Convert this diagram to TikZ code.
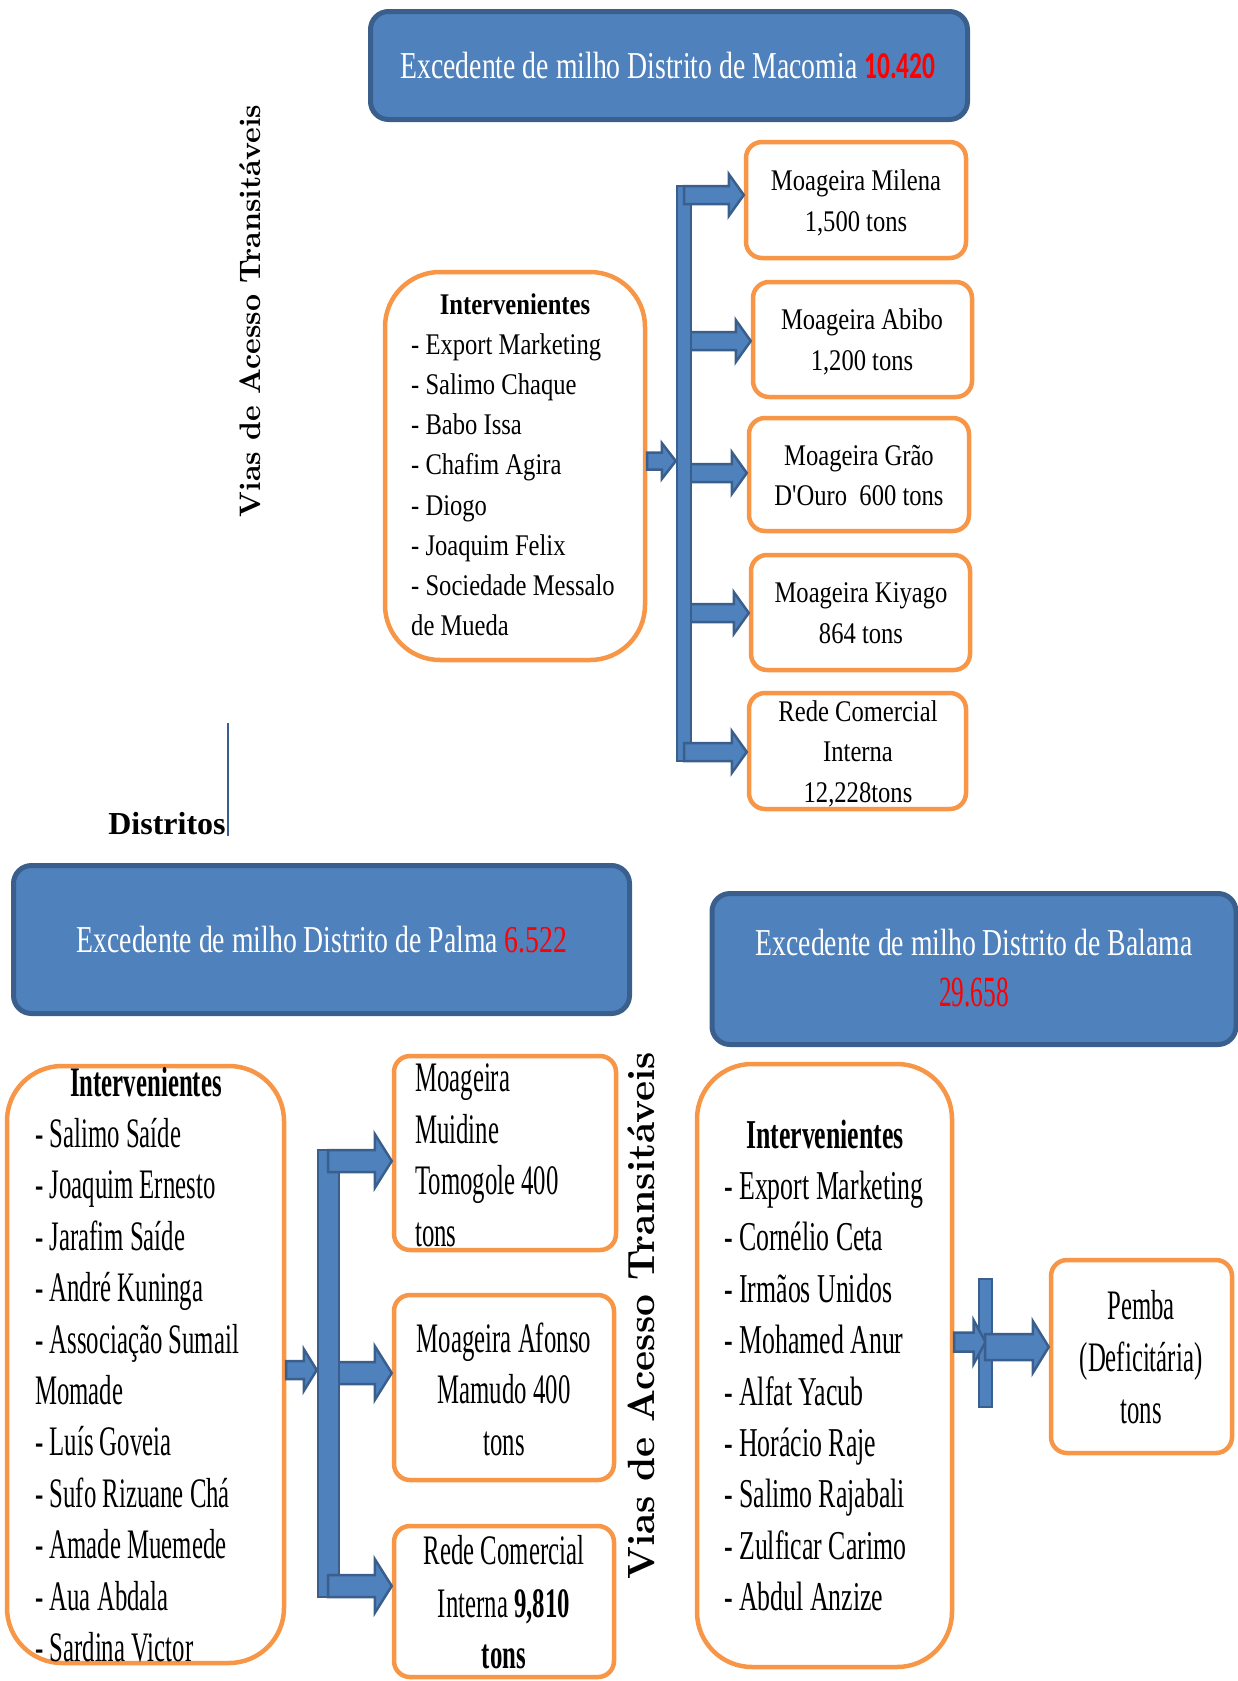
\documentclass[tikz,border=0pt]{standalone}
\usepackage{fontspec}
\usetikzlibrary{calc,fit}
\newfontfamily\fHead[FakeStretch=0.73]{Liberation Serif}
\newfontfamily\fNum[FakeStretch=0.67]{Carlito Bold}
\newfontfamily\fA[FakeStretch=0.82]{Liberation Serif}
\newfontfamily\fB[FakeStretch=0.59]{Liberation Serif}
\newfontfamily\fC[FakeStretch=0.63]{Liberation Serif}
\newfontfamily\fVias{lmroman10-bold.otf}
\newfontfamily\fDist{Liberation Serif}
\definecolor{bblue}{HTML}{4F81BD}
\definecolor{bedge}{HTML}{3A5F8C}
\definecolor{orng}{HTML}{F79646}
\tikzset{
  hdrbox/.style={draw=bedge, line width=5pt, fill=bblue, rounded corners=18pt, inner sep=0pt},
  obox/.style={draw=orng, line width=4.5pt, fill=white, rounded corners=16pt, inner sep=0pt},
  ibox/.style={obox, rounded corners=55pt},
  barsty/.style={draw=bedge, line width=2.5pt, fill=bblue, inner sep=0pt},
  arr/.style={draw=bedge, line width=2.5pt, fill=bblue, line join=miter},
  tA/.style={font=\fA\fontsize{30}{36}\selectfont, inner sep=0pt, anchor=base},
  tB/.style={font=\fB\fontsize{42}{50}\selectfont, inner sep=0pt, anchor=base},
  tC/.style={font=\fC\fontsize{41}{50}\selectfont, inner sep=0pt, anchor=base},
  tH/.style={font=\fHead\fontsize{38}{46}\selectfont, text=white, inner sep=0pt},
  tV/.style={rotate=90, inner sep=0pt}
}
% block arrow: start point, target (tip x), half shaft, half head, head length
\newcommand\barrow[5]{%
  \filldraw[arr] let \p1=(#1), \p2=(#2) in
    (\x1,\y1+#3) -- (\x2-#5,\y1+#3) -- (\x2-#5,\y1+#4) -- (\x2,\y1)
    -- (\x2-#5,\y1-#4) -- (\x2-#5,\y1-#3) -- (\x1,\y1-#3) -- cycle;}
\begin{document}
\begin{tikzpicture}[x=1pt,y=-1pt]
\useasboundingbox (0,0) rectangle (1238,1681);

% ---------- Macomia ----------
\node[hdrbox, fit={(370.5,11.5) (967.5,119.5)}] (mHdr) {};
\node[tH] (mHdrT) at (668,66) {Excedente de milho Distrito de Macomia \textcolor{red}{\fNum 10.420}};

\node[ibox, fit={(385,272) (645,660)}] (mInt) {};
\node[obox, fit={(746,142) (966,258)}] (mMil) {};
\node[obox, fit={(753,282) (972,397)}] (mAbi) {};
\node[obox, fit={(749,418) (969,531)}] (mGra) {};
\node[obox, fit={(751,555) (970,670)}] (mKiy) {};
\node[obox, fit={(749,693) (966,809)}] (mRed) {};

\node[tA, font=\fA\bfseries\fontsize{30}{36}\selectfont] (mIntH) at (515,314) {Intervenientes};
\foreach \t [count=\i] in {- Export Marketing, - Salimo Chaque, - Babo Issa, - Chafim Agira, - Diogo, - Joaquim Felix, - Sociedade Messalo, de Mueda}
  \node[tA, anchor=base west] (mIntL\i) at (411,{314+40.2*\i}) {\t};

\node[tA] (mMil1) at (856,190) {Moageira Milena};
\node[tA] (mMil2) at (856,231) {1,500 tons};
\node[tA] (mAbi1) at (862,329) {Moageira Abibo};
\node[tA] (mAbi2) at (862,370) {1,200 tons};
\node[tA] (mGra1) at (859,465) {Moageira Grão};
\node[tA] (mGra2) at (859,505) {D'Ouro\ \ 600 tons};
\node[tA] (mKiy1) at (861,602) {Moageira Kiyago};
\node[tA] (mKiy2) at (861,643) {864 tons};
\node[tA] (mRed1) at (858,721) {Rede Comercial};
\node[tA] (mRed2) at (858,761) {Interna};
\node[tA] (mRed3) at (858,802) {12,228tons};

\coordinate (mS1) at (684,195);
\coordinate (mS2) at (684,341);
\coordinate (mS3) at (684,473);
\coordinate (mS4) at (684,613);
\coordinate (mS5) at (684,752);
\coordinate (mIn) at (647,461);
\barrow{mS2}{mAbi.west}{9pt}{21pt}{15pt}
\barrow{mS3}{mGra.west}{9pt}{21pt}{15pt}
\barrow{mS4}{mKiy.west}{9pt}{21pt}{15pt}
\node[barsty, fit={(677,186) (691,761)}] (mBar) {};
\barrow{mS1}{mMil.west}{9pt}{21pt}{15pt}
\barrow{mS5}{mRed.west}{9pt}{21pt}{15pt}
\barrow{mIn}{mBar.west}{8.5pt}{18pt}{14pt}

\node[tV, font=\fVias\fontsize{29.7}{34}\selectfont] (mVias) at (250,311) {Vias de Acesso Transitáveis};

% ---------- Distritos ----------
\node[inner sep=0pt, anchor=base, font=\fDist\bfseries\fontsize{32}{38}\selectfont] (dist) at (167,834) {Distritos};
\coordinate (dTop) at (228,723);
\coordinate (dBot) at (228,836);
\draw[bedge, line width=2pt] (dTop) -- (dBot);

% ---------- Palma ----------
\node[hdrbox, fit={(13.5,865.5) (629.5,1013.5)}] (pHdr) {};
\node[tH] (pHdrT) at (322,940) {Excedente de milho Distrito de Palma \textcolor{red}{6.522}};

\node[ibox, fit={(7,1066) (284,1663)}] (pInt) {};
\node[obox, fit={(394,1056) (616,1250)}] (pMui) {};
\node[obox, fit={(394,1295) (614,1480)}] (pAfo) {};
\node[obox, fit={(394,1526) (614,1677)}] (pRed) {};

\node[tB, font=\fB\bfseries\fontsize{42}{50}\selectfont] (pIntH) at (146,1096) {Intervenientes};
\foreach \t [count=\i] in {- Salimo Saíde, - Joaquim Ernesto, - Jarafim Saíde, - André Kuninga, - Associação Sumail, Momade, - Luís Goveia, - Sufo Rizuane Chá, - Amade Muemede, - Aua Abdala, - Sardina Victor}
  \node[tB, anchor=base west] (pIntL\i) at (35,{1096+51.4*\i}) {\t};

\node[tB, anchor=base west] (pMui1) at (415,1091) {Moageira};
\node[tB, anchor=base west] (pMui2) at (415,1143) {Muidine};
\node[tB, anchor=base west] (pMui3) at (415,1194) {Tomogole 400};
\node[tB, anchor=base west] (pMui4) at (415,1246) {tons};
\node[tB] (pAfo1) at (504,1352) {Moageira Afonso};
\node[tB] (pAfo2) at (504,1403) {Mamudo 400};
\node[tB] (pAfo3) at (504,1455) {tons};
\node[tB] (pRed1) at (504,1564) {Rede Comercial};
\node[tB] (pRed2) at (504,1617) {Interna \textbf{9,810}};
\node[tB] (pRed3) at (504,1668) {\textbf{tons}};

\coordinate (pS1) at (328,1161);
\coordinate (pS2) at (328,1373);
\coordinate (pS3) at (328,1586);
\coordinate (pIn) at (286,1370);
\barrow{pS2}{pAfo.west}{11pt}{27pt}{17pt}
\node[barsty, fit={(318,1150) (339,1597)}] (pBar) {};
\barrow{pS1}{pMui.west}{11pt}{27pt}{17pt}
\barrow{pS3}{pRed.west}{11pt}{27pt}{17pt}
\barrow{pIn}{pBar.west}{9pt}{21pt}{13pt}

\node[tV, font=\fVias\fontsize{38}{44}\selectfont] (pVias) at (641,1316) {Vias de Acesso Transitáveis};

% ---------- Balama ----------
\node[hdrbox, fit={(712,893.5) (1236,1044.5)}] (bHdr) {};
\node[tH] (bHdrT1) at (974,942) {Excedente de milho Distrito de Balama};
\node[tH, text=red, font=\fB\fontsize{43}{50}\selectfont] (bHdrT2) at (974,992) {29.658};

\node[ibox, fit={(697,1064) (952,1667)}] (bInt) {};
\node[obox, fit={(1051,1260) (1232,1453)}] (bPem) {};

\node[tC, font=\fC\bfseries\fontsize{41}{50}\selectfont] (bIntH) at (825,1148) {Intervenientes};
\foreach \t [count=\i] in {- Export Marketing, - Cornélio Ceta, - Irmãos Unidos, - Mohamed Anur, - Alfat Yacub, - Horácio Raje, - Salimo Rajabali, - Zulficar Carimo, - Abdul Anzize}
  \node[tC, anchor=base west] (bIntL\i) at (724,{1148+51.4*\i}) {\t};

\node[tB] (bPem1) at (1141,1319) {Pemba};
\node[tB] (bPem2) at (1141,1371) {(Deficitária)};
\node[tB] (bPem3) at (1141,1423) {tons};

\coordinate (bIn) at (954,1342);
\coordinate (bOut) at (985,1347);
\node[barsty, fit={(979,1279) (992,1407)}] (bBar) {};
\barrow{bIn}{bBar.center}{9.5pt}{22pt}{12pt}
\barrow{bOut}{bPem.west}{13pt}{26pt}{16pt}
\end{tikzpicture}
\end{document}
